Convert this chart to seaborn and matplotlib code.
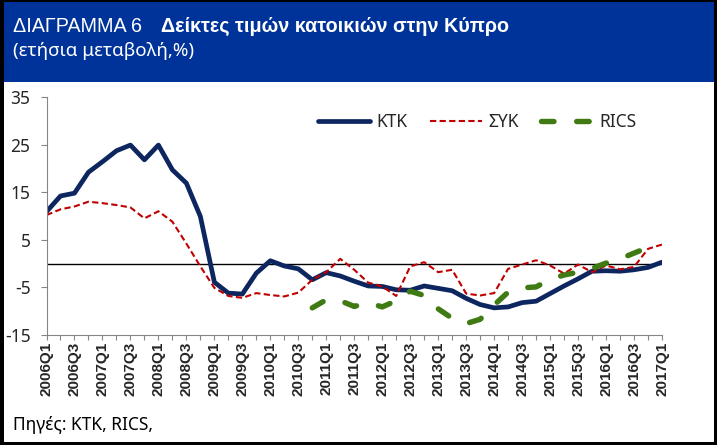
import matplotlib
matplotlib.use("Agg")
import matplotlib.pyplot as plt
from matplotlib.patches import Rectangle
from matplotlib import font_manager as fm
import seaborn as sns
import pandas as pd
import numpy as np

# ---------------- data ----------------
quarters = [
    "2006Q1", "2006Q2", "2006Q3", "2006Q4", "2007Q1", "2007Q2", "2007Q3", "2007Q4",
    "2008Q1", "2008Q2", "2008Q3", "2008Q4", "2009Q1", "2009Q2", "2009Q3", "2009Q4",
    "2010Q1", "2010Q2", "2010Q3", "2010Q4", "2011Q1", "2011Q2", "2011Q3", "2011Q4",
    "2012Q1", "2012Q2", "2012Q3", "2012Q4", "2013Q1", "2013Q2", "2013Q3", "2013Q4",
    "2014Q1", "2014Q2", "2014Q3", "2014Q4", "2015Q1", "2015Q2", "2015Q3", "2015Q4",
    "2016Q1", "2016Q2", "2016Q3", "2016Q4", "2017Q1",
]
ktk = [10.9, 14.2, 14.8, 19.2, 21.4, 23.7, 24.9, 21.8, 24.9, 19.7, 16.9, 9.9,
       -3.9, -6.2, -6.4, -2.0, 0.6, -0.5, -1.1, -3.4, -1.9, -2.6, -3.7, -4.7,
       -4.8, -5.5, -5.6, -4.7, -5.2, -5.7, -7.3, -8.6, -9.3, -9.1, -8.2, -7.9,
       -6.3, -4.7, -3.2, -1.6, -1.5, -1.6, -1.3, -0.8, 0.3]
syk = [10.2, 11.4, 12.0, 13.0, 12.7, 12.3, 11.8, 9.5, 11.0, 8.8, 4.2, -0.6,
       -5.1, -6.8, -7.2, -6.2, -6.6, -6.9, -6.1, -3.4, -1.8, 1.0, -1.3, -4.0,
       -4.8, -6.8, -0.6, 0.3, -1.8, -1.3, -6.3, -6.7, -6.2, -1.1, -0.2, 0.7,
       -0.4, -2.1, -0.2, -1.8, -0.4, -1.2, -0.7, 3.1, 4.0]
rics = [np.nan] * 19 + [
    -9.3, -7.6, -7.8, -9.0, -8.2, -9.1, -7.8, -5.8, -6.7, -9.5, -11.5, -12.6,
    -11.7, -8.7, -6.0, -5.1, -4.9, -3.3, -2.4, -1.8, -1.0, 0.1, 1.0, 2.2, 3.4,
] + [np.nan]
series_names = ["KTK", "ΣΥΚ", "RICS"]
yticks = [-15, -5, 5, 15, 25, 35]

title_regular = "ΔΙΑΓΡΑΜΜΑ 6"
title_bold = "Δείκτες τιμών κατοικιών στην Κύπρο"
subtitle = "(ετήσια μεταβολή,%)"
source = "Πηγές: KTK, RICS,"

df = pd.DataFrame({"pos": np.arange(len(quarters)), "q": quarters,
                   "KTK": ktk, "ΣΥΚ": syk, "RICS": rics})


def font_file(name, bold):
    """Locate an upright (non-italic) font file of the given family/weight."""
    for f in fm.fontManager.ttflist:
        fn = f.fname.lower()
        w = f.weight if isinstance(f.weight, int) else (700 if f.weight == "bold" else 400)
        if (f.name == name and f.style == "normal" and "italic" not in fn
                and "oblique" not in fn and (w >= 600) == bold):
            return f.fname
    return fm.findfont(fm.FontProperties(family="DejaVu Sans",
                                         weight="bold" if bold else "normal"))


# ---------------- style ----------------
sns.set_style("white")
plt.rcParams["font.family"] = ["Noto Sans", "DejaVu Sans"]
fp_bold_title = fm.FontProperties(fname=font_file("Liberation Sans", True), size=14.2)
fp_reg_title = fm.FontProperties(fname=font_file("Liberation Sans", False), size=14.2)
fp_xtick = fm.FontProperties(fname=font_file("Liberation Sans", True), size=11)

W, H = 717, 445
fig = plt.figure(figsize=(W / 100, H / 100), dpi=100)

# banner & frame
fig.patches.append(Rectangle((0, 1 - 82 / H), 1, 82 / H, transform=fig.transFigure,
                             facecolor="#003399", edgecolor="none", zorder=0))
for (x0, y0, w, h) in [(0, 0, 4 / W, 1), (1 - 3 / W, 0, 3 / W, 1),
                       (0, 0, 1, 3 / H), (0, 1 - 2 / H, 1, 2 / H)]:
    fig.patches.append(Rectangle((x0, y0), w, h, transform=fig.transFigure,
                                 facecolor="black", edgecolor="none", zorder=5))

fig.text(13 / W, 1 - 32 / H, title_regular, color="white",
         fontproperties=fp_reg_title, va="baseline", ha="left")
fig.text(161 / W, 1 - 32 / H, title_bold, color="white",
         fontproperties=fp_bold_title, va="baseline", ha="left")
fig.text(13 / W, 1 - 56 / H, subtitle, color="white", fontsize=13.5,
         va="baseline", ha="left")
fig.text(13 / W, 1 - 430 / H, source, color="black", fontsize=12.5,
         va="baseline", ha="left")

left, right, top, bottom = 46.5, 662, 97, 335
ax = fig.add_axes([left / W, 1 - bottom / H, (right - left) / W, (bottom - top) / H])
ax.set_facecolor("white")

sns.lineplot(data=df, x="pos", y="KTK", ax=ax, color="#0D2660", linewidth=3.4,
             label=series_names[0], solid_joinstyle="round")
sns.lineplot(data=df, x="pos", y="ΣΥΚ", ax=ax, color="#C00000", linewidth=1.5,
             linestyle=(0, (3, 1.6)), label=series_names[1])
sns.lineplot(data=df.dropna(subset=["RICS"]), x="pos", y="RICS", ax=ax,
             color="#3F7A12", linewidth=3.9, linestyle=(0, (2.3, 4.2)),
             dash_capstyle="round", label=series_names[2])

ax.axhline(0, color="black", linewidth=1.0, zorder=1)

ax.set_xlim(0, len(quarters) - 1)
ax.set_ylim(-15, 35)
ax.set_yticks(yticks)
ax.set_yticklabels([str(v) for v in yticks], fontsize=12.5)
ax.set_xticks(np.arange(len(quarters)))
ax.set_xticklabels([q if i % 2 == 0 else "" for i, q in enumerate(quarters)],
                   rotation=90, fontproperties=fp_xtick)
ax.set_xlabel("")
ax.set_ylabel("")

for s in ["top", "right"]:
    ax.spines[s].set_visible(False)
for s in ["left", "bottom"]:
    ax.spines[s].set_color("#868686")
    ax.spines[s].set_linewidth(0.8)
ax.tick_params(axis="y", direction="out", length=4.5, width=0.8, color="#868686",
               pad=7, left=True)
ax.tick_params(axis="x", direction="out", length=3.5, width=0.8, color="#868686",
               pad=1.5, bottom=True)

leg = ax.legend(loc="center", bbox_to_anchor=(0.70, 0.895), ncol=3, frameon=False,
                fontsize=12.5, handlelength=3.0, handletextpad=0.35,
                columnspacing=1.3)

fig.savefig("out.png", dpi=100)
